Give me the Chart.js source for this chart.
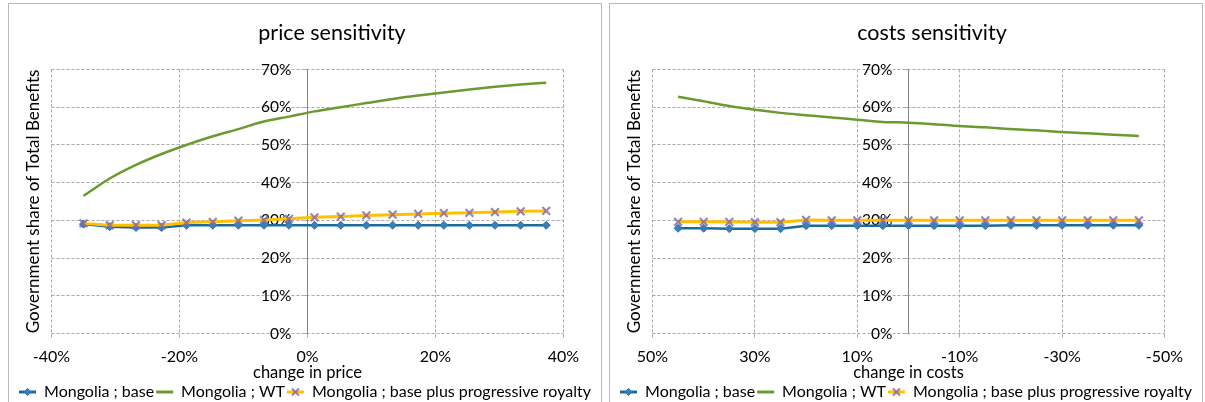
<!DOCTYPE html>
<html>
<head>
<meta charset="utf-8">
<script src="https://cdn.jsdelivr.net/npm/chart.js@4.4.0/dist/chart.umd.min.js"></script>
<style>
	html, body { margin: 0; padding: 0; background: #fff; width: 1205px; height: 402px; overflow: hidden; }
	.panel { position: absolute; top: 3px; width: 592px; height: 410px; border: 1px solid #b8b8b8; box-sizing: content-box; }
	.panel canvas { position: absolute; left: 0; top: 0; }
	.title { position: absolute; top: 19px; width: 300px; text-align: center; font: 21.5px Lato, sans-serif; line-height: 26px; color: #000; }
</style>
</head>
<body>
<div class="panel" style="left:8px"><canvas id="priceChart" width="592" height="406"></canvas></div>
<div class="panel" style="left:609px"><canvas id="costChart" width="592" height="406"></canvas></div>
<div class="title" style="left:182px">price sensitivity</div>
<div class="title" style="left:782px">costs sensitivity</div>
<script>
// values (percent)
const seriesNames = ['Mongolia ; base', 'Mongolia ; WT', 'Mongolia ; base plus progressive royalty']
const shareTicks = [0, 10, 20, 30, 40, 50, 60, 70]

// price sensitivity
const priceChange = [-35, -30.9, -26.8, -22.8, -18.9, -14.8, -10.8, -6.8, -2.9, 1.1, 5.2, 9.2, 13.3, 17.3, 21.3, 25.3, 29.3, 33.3, 37.3]
const priceBase = [29.0, 28.3, 28.1, 28.1, 28.7, 28.7, 28.7, 28.7, 28.7, 28.7, 28.7, 28.7, 28.7, 28.7, 28.7, 28.7, 28.7, 28.7, 28.7]
const priceWT = [36.5, 41.1, 44.7, 47.6, 50.0, 52.3, 54.2, 56.2, 57.5, 58.9, 60.0, 61.1, 62.2, 63.1, 63.9, 64.7, 65.4, 66.0, 66.5]
const priceRoyalty = [29.2, 28.7, 28.7, 28.7, 29.4, 29.6, 29.9, 30.1, 30.4, 30.8, 31.0, 31.3, 31.5, 31.7, 31.9, 32.0, 32.2, 32.4, 32.5]
const priceTicks = [-40, -20, 0, 20, 40]

// costs sensitivity
const costChange = [45, 40, 35, 30, 25, 20, 15, 10, 5, 0, -5, -10, -15, -20, -25, -30, -35, -40, -45]
const costBase = [27.9, 27.9, 27.8, 27.8, 27.8, 28.6, 28.6, 28.6, 28.6, 28.6, 28.6, 28.6, 28.6, 28.7, 28.7, 28.7, 28.7, 28.7, 28.7]
const costWT = [62.8, 61.6, 60.3, 59.3, 58.5, 57.9, 57.3, 56.7, 56.1, 55.9, 55.5, 55.0, 54.7, 54.2, 53.9, 53.4, 53.1, 52.7, 52.4]
const costRoyalty = [29.6, 29.6, 29.6, 29.5, 29.5, 30.1, 30.0, 30.0, 30.0, 30.0, 30.0, 30.0, 30.0, 30.0, 30.0, 30.0, 30.0, 30.0, 30.0]
const costTicks = [50, 30, 10, -10, -30, -50]

const font = 'Lato, sans-serif'
const gridColor = '#a9a9a9'

const toPoints = (xs, ys) => xs.map((x, i) => ({ x: x, y: ys[i] }))

// draws the marker on top of the legend line, like excel does
const legendMarkers = {
	id: 'legendMarkers',
	afterDraw(chart) {
		const legend = chart.legend
		if (!legend || !legend.legendHitBoxes || !Chart.helpers || !Chart.helpers.drawPoint) return
		const ctx = chart.ctx
		const labels = legend.options.labels
		legend.legendItems.forEach((item, i) => {
			const ds = chart.data.datasets[item.datasetIndex]
			if (!ds.pointRadius) return
			const hb = legend.legendHitBoxes[i]
			ctx.save()
			ctx.strokeStyle = ds.pointBorderColor
			ctx.fillStyle = ds.pointBackgroundColor || ds.pointBorderColor
			ctx.lineWidth = ds.pointBorderWidth
			Chart.helpers.drawPoint(ctx, { pointStyle: ds.pointStyle, rotation: 0, radius: ds.pointRadius * 0.9, borderWidth: ds.pointBorderWidth }, hb.left + labels.boxWidth / 2, hb.top + labels.font.size / 2)
			ctx.restore()
		})
	},
}

const sensitivityChart = (id, xs, base, wt, royalty, xTicks, reverse, xTitle) => {
	const ctx = document.getElementById(id).getContext('2d')
	const fixTicks = (list) => (axis) => { axis.ticks = list.map((v) => ({ value: v })) }
	return new Chart(ctx, {
		type: 'line',
		plugins: [legendMarkers],
		data: {
			datasets: [
				{
					label: seriesNames[0],
					data: toPoints(xs, base),
					borderColor: '#1c6a9c',
					backgroundColor: '#1c6a9c',
					borderWidth: 2.5,
					pointStyle: 'rectRot',
					pointRadius: 4,
					pointBackgroundColor: '#3a80b8',
					pointBorderColor: '#2a74aa',
					pointBorderWidth: 1,
					order: 1,
					yAxisID: 'y',
				},
				{
					label: seriesNames[1],
					data: toPoints(xs, wt),
					borderColor: '#6b9a31',
					backgroundColor: '#6b9a31',
					borderWidth: 2.5,
					pointRadius: 0,
					cubicInterpolationMode: 'monotone',
					order: 2,
					yAxisID: 'y',
				},
				{
					label: seriesNames[2],
					data: toPoints(xs, royalty),
					borderColor: '#ffc000',
					backgroundColor: '#ffc000',
					borderWidth: 3,
					pointStyle: 'crossRot',
					pointRadius: 5.5,
					pointBorderColor: 'rgba(130,102,168,0.8)',
					pointBackgroundColor: 'rgba(130,102,168,0.8)',
					pointBorderWidth: 2.2,
					order: 0,
					yAxisID: 'y',
				},
			],
		},
		options: {
			responsive: false,
			animation: false,
			layout: { padding: { top: 65.5, bottom: 0, left: 0, right: 0 } },
			scales: {
				x: {
					type: 'linear',
					position: 'bottom',
					min: Math.min(...xTicks),
					max: Math.max(...xTicks),
					reverse: reverse,
					afterBuildTicks: fixTicks(xTicks),
					afterFit: (s) => { s.height = 48.5 },
					grid: { color: gridColor, tickLength: 4 },
					border: { display: false, dash: [3, 2] },
					ticks: { padding: 10, color: '#000', font: { family: font, size: 16, lineHeight: 1.2 }, callback: (v) => v + '%' },
					title: { display: true, text: xTitle, color: '#000', padding: 0, font: { family: font, size: 16.5, lineHeight: 1.1 } },
				},
				y: {
					type: 'linear',
					position: 'center',
					min: 0,
					max: 70,
					afterBuildTicks: fixTicks(shareTicks),
					grid: { color: gridColor, tickLength: 5 },
					border: { display: true, color: '#868686', width: 1, dash: [3, 2] },
					ticks: { padding: 11, color: '#000', font: { family: font, size: 15.5 }, callback: (v) => v + '%' },
				},
				yTitle: {
					type: 'linear',
					position: 'left',
					min: 0,
					max: 1,
					afterFit: (s) => { s.width = 42.5 },
					grid: { display: false },
					border: { display: false },
					ticks: { display: false },
					title: { display: true, text: 'Government share of Total Benefits', color: '#000', padding: { top: 14, bottom: 0 }, font: { family: font, size: 17, lineHeight: 1.2 } },
				},
				yPad: {
					type: 'linear',
					position: 'right',
					min: 0,
					max: 1,
					afterFit: (s) => { s.width = 37.5 },
					grid: { display: false },
					border: { display: false },
					ticks: { display: false },
				},
			},
			plugins: {
				title: { display: false },
				tooltip: { enabled: false },
				legend: {
					position: 'bottom',
					labels: {
						color: '#000',
						font: { family: font, size: 16 },
						boxWidth: 17,
						boxHeight: 3,
						padding: 2,
						sort: (a, b) => a.datasetIndex - b.datasetIndex,
						generateLabels: (chart) => Chart.defaults.plugins.legend.labels.generateLabels(chart).map((l) => ({ ...l, lineWidth: 0, fillStyle: l.strokeStyle })),
					},
				},
			},
		},
	})
}

sensitivityChart('priceChart', priceChange, priceBase, priceWT, priceRoyalty, priceTicks, false, 'change in price')
sensitivityChart('costChart', costChange, costBase, costWT, costRoyalty, costTicks, true, 'change in costs')
</script>
</body>
</html>
